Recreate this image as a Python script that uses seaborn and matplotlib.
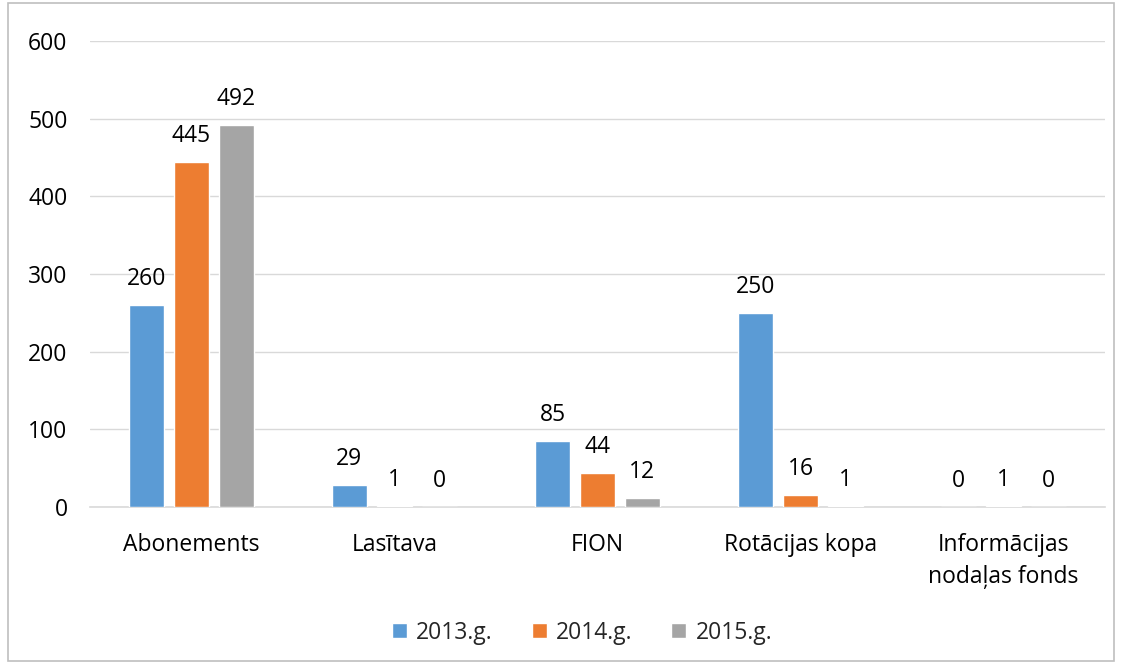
import matplotlib
matplotlib.use("Agg")
import matplotlib.pyplot as plt
import pandas as pd
import seaborn as sns
from matplotlib.patches import Rectangle

# Dati
kategorijas = ["Abonements", "Lasītava", "FION", "Rotācijas kopa", "Informācijas\nnodaļas fonds"]
gadi = ["2013.g.", "2014.g.", "2015.g."]
v2013 = [260, 29, 85, 250, 0]
v2014 = [445, 1, 44, 16, 1]
v2015 = [492, 0, 12, 1, 0]
krasas = ["#5B9BD5", "#ED7D31", "#A5A5A5"]

df = pd.DataFrame({
    "kategorija": kategorijas * 3,
    "gads": [g for g in gadi for _ in kategorijas],
    "vertiba": v2013 + v2014 + v2015,
})

sns.set_style("white")
plt.rcParams['font.family'] = ['Open Sans', 'DejaVu Sans']
fs = 16.5

fig = plt.figure(figsize=(11.22, 6.64), dpi=100)
ax = fig.add_axes([0.080, 0.2364, 0.905, 0.7016])

sns.barplot(data=df, x="kategorija", y="vertiba", hue="gads", palette=krasas,
            width=0.665, gap=0.22, ax=ax, saturation=1, zorder=3)

# Vērtību etiķetes
for cont in ax.containers:
    ax.bar_label(cont, labels=[f"{int(v)}" for v in cont.datavalues],
                 padding=10, fontsize=fs, color="#000000")

ax.set_ylim(0, 600)
ax.set_yticks(range(0, 601, 100))
ax.yaxis.grid(True, color="#D9D9D9", linewidth=1, zorder=0)
ax.set_xlabel("")
ax.set_ylabel("")
for s in ["top", "right", "left"]:
    ax.spines[s].set_visible(False)
ax.spines["bottom"].set_color("#D9D9D9")
ax.spines["bottom"].set_linewidth(1.2)
ax.tick_params(axis="both", length=0, labelsize=fs, colors="#000000")
ax.tick_params(axis="y", pad=16)
ax.tick_params(axis="x", pad=19)
for t in ax.get_xticklabels():
    t.set_linespacing(1.4)

ax.legend(loc="upper center", bbox_to_anchor=(0.485, -0.2), ncol=3, frameon=False,
          fontsize=fs, handlelength=0.65, handleheight=0.65, handletextpad=0.4,
          columnspacing=1.7)

# Rāmis ap attēlu
fig.patches.append(Rectangle((0.007, 0.005), 0.986, 0.99, transform=fig.transFigure,
                             fill=False, edgecolor="#BFBFBF", linewidth=1.2))

fig.savefig("out.png", dpi=100)
